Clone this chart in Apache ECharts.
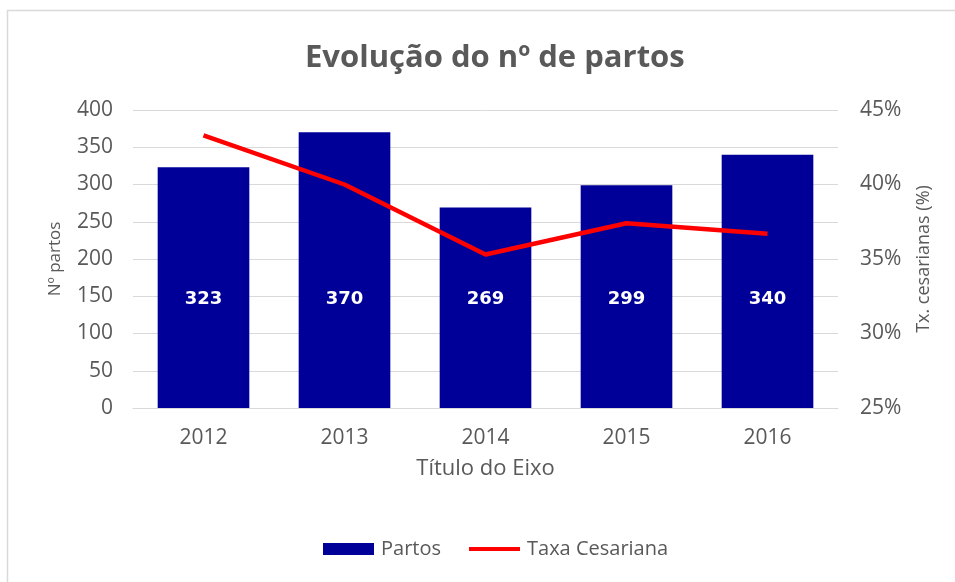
<!DOCTYPE html>
<html><head><meta charset="utf-8">
<script src="https://cdn.jsdelivr.net/npm/echarts@6/dist/echarts.min.js"></script>
<style>html,body{margin:0;padding:0;background:#fff}#c{width:955px;height:582px}</style>
</head><body><div id="c"></div>
<script>
const categories = ['2012','2013','2014','2015','2016'];
const partos = [323, 370, 269, 299, 340];
const taxaCesariana = [43.3, 40.0, 35.3, 37.4, 36.7];

const chart = echarts.init(document.getElementById('c'));
const grey = '#595959';
const font = 'Open Sans, Noto Sans, sans-serif';
chart.setOption({
  animation: false,
  graphic: [{type:'rect', shape:{x:7.5,y:10.5,width:960,height:600}, style:{fill:'none', stroke:'#d9d9d9', lineWidth:1.5}}],
  title: {text:'Evolução do nº de partos', left:300, top:38,
    textStyle:{fontFamily:font, fontSize:31, fontWeight:'bold', color:grey}},
  grid: {left:133, right:117, top:110, bottom:174},
  legend: {bottom:18, left:318, itemGap:28, itemWidth:51, itemHeight:12,
    textStyle:{fontFamily:font, fontSize:20, color:grey, padding:[0,0,0,2]},
    data:[{name:'Partos', icon:'rect'}, {name:'Taxa Cesariana', icon:'path://M0,4 L52,4 L52,8 L0,8 Z'}]},
  xAxis: {type:'category', data:categories, name:'Título do Eixo', nameLocation:'middle', nameGap:50,
    nameTextStyle:{fontFamily:font, fontSize:22, color:grey},
    axisLine:{lineStyle:{color:'#d9d9d9'}}, axisTick:{show:false},
    axisLabel:{fontFamily:font, fontSize:21, color:grey, margin:20}},
  yAxis: [
    {type:'value', min:0, max:400, interval:50, name:'Nº partos', nameLocation:'middle', nameGap:69,
     nameTextStyle:{fontFamily:font, fontSize:17, color:grey},
     axisLabel:{fontFamily:font, fontSize:21, color:grey, margin:20},
     splitLine:{lineStyle:{color:'#d9d9d9', width:1}}, axisLine:{show:false}, axisTick:{show:false}},
    {type:'value', min:25, max:45, interval:5, name:'Tx. cesarianas (%)', nameLocation:'middle', nameGap:77,
     nameRotate:90,
     nameTextStyle:{fontFamily:font, fontSize:18, color:grey},
     axisLabel:{fontFamily:font, fontSize:21, color:grey, margin:22, formatter:'{value}%'},
     splitLine:{show:false}, axisLine:{show:false}, axisTick:{show:false}}
  ],
  series: [
    {name:'Partos', type:'bar', data:partos, barWidth:'65%', yAxisIndex:0,
     itemStyle:{color:'#000099'},
     label:{show:true, position:'insideBottom', distance:100, color:'#fff',
       fontFamily:'DejaVu Sans, sans-serif', fontWeight:'bold', fontSize:18}},
    {name:'Taxa Cesariana', type:'line', data:taxaCesariana, yAxisIndex:1,
     symbol:'none', lineStyle:{color:'#ff0000', width:4.5}, itemStyle:{color:'#ff0000'}}
  ]
});
</script></body></html>
